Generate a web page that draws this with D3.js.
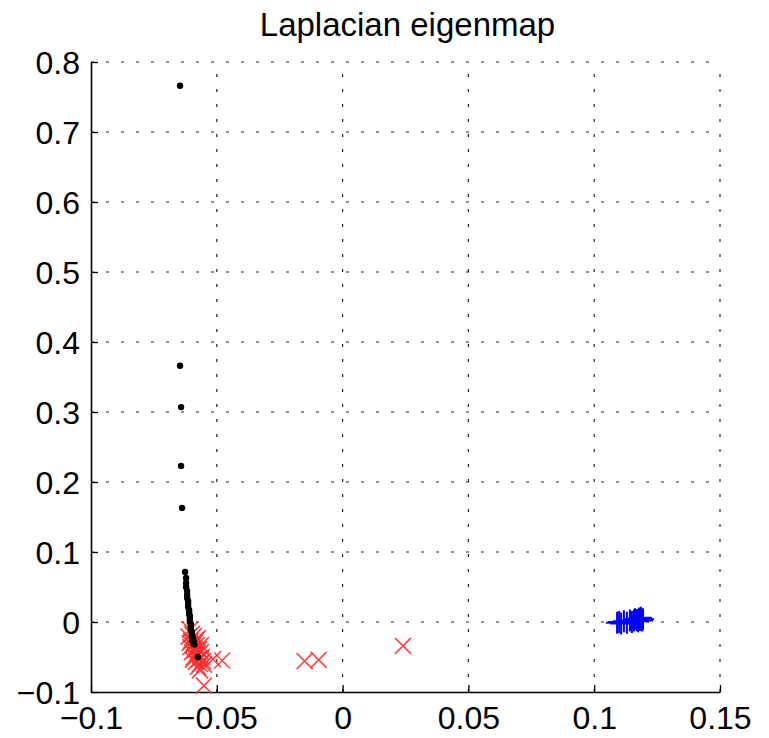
<!DOCTYPE html>
<html>
<head>
<meta charset="utf-8">
<script src="https://cdn.jsdelivr.net/npm/d3@7"></script>
<style>
  html, body { margin: 0; padding: 0; background: #fff; }
  svg { display: block; font-family: "Liberation Sans", Arial, Helvetica, sans-serif; }
</style>
</head>
<body>
<svg id="chart" width="769" height="738"></svg>
<script>
// ---- data ----
const title = "Laplacian eigenmap";
const xTicks = [-0.1, -0.05, 0, 0.05, 0.1, 0.15];
const xTickLabels = ["\u22120.1", "\u22120.05", "0", "0.05", "0.1", "0.15"];
const yTicks = [-0.1, 0, 0.1, 0.2, 0.3, 0.4, 0.5, 0.6, 0.7, 0.8];
const yTickLabels = ["\u22120.1", "0", "0.1", "0.2", "0.3", "0.4", "0.5", "0.6", "0.7", "0.8"];

// blue "+" class
const blueX = [0.1091, 0.1099, 0.1107, 0.1118, 0.1130, 0.1142, 0.1150, 0.1162, 0.1170, 0.1178, 0.1186, 0.1194, 0.1190, 0.1174, 0.1182, 0.1158];
const blueY = [-0.001, 0.000, -0.002, 0.001, -0.001, 0.002, 0.000, 0.004, 0.003, 0.005, 0.006, 0.004, 0.002, 0.001, 0.003, 0.002];

// red "x" class
const redX = [-0.0606, -0.0599, -0.0612, -0.0591, -0.0603, -0.0583, -0.0595, -0.0579, -0.0605, -0.0587,
              -0.0571, -0.0599, -0.0579, -0.0563, -0.0591, -0.0571, -0.0559, -0.0583, -0.0567, -0.0555,
              -0.0575, -0.0595, -0.0563, -0.0608, -0.0587, -0.0575, -0.0567, -0.0551,
              -0.0515, -0.0479, -0.0551, -0.0151, -0.0095, 0.0240];
const redY = [-0.011, -0.017, -0.021, -0.020, -0.027, -0.026, -0.033, -0.033, -0.036, -0.040,
              -0.039, -0.043, -0.046, -0.043, -0.050, -0.053, -0.050, -0.057, -0.060, -0.056,
              -0.064, -0.054, -0.033, -0.030, -0.029, -0.023, -0.069, -0.061,
              -0.053, -0.055, -0.091, -0.056, -0.054, -0.034];

// black "." class
const blackX = [-0.0646, -0.0646, -0.0642, -0.0642, -0.0638,
                -0.0626, -0.0622, -0.0622, -0.0622, -0.0618, -0.0618, -0.0618, -0.0614, -0.0614, -0.0614,
                -0.0610, -0.0610, -0.0610, -0.0607, -0.0607, -0.0607, -0.0607, -0.0603, -0.0603, -0.0603,
                -0.0603, -0.0599, -0.0599, -0.0599, -0.0595, -0.0595, -0.0591, -0.0597, -0.0593, -0.0589, -0.0575];
const blackY = [0.766, 0.366, 0.307, 0.223, 0.163,
                0.0714, 0.0629, 0.0557, 0.050, 0.0443, 0.0386, 0.0343, 0.030, 0.0257, 0.0214,
                0.0171, 0.0143, 0.0114, 0.0086, 0.0057, 0.0029, 0.000, -0.0029, -0.0057, -0.0086,
                -0.0114, -0.0143, -0.0171, -0.020, -0.0229, -0.0257, -0.0286, -0.027, -0.030, -0.032, -0.050];

// ---- layout ----
const svg = d3.select("#chart");
const x = d3.scaleLinear().domain([-0.1, 0.15]).range([91, 720]);
const y = d3.scaleLinear().domain([-0.1, 0.8]).range([692, 62]);
const fontSize = 32;

// title
svg.append("text")
  .attr("x", (x.range()[0] + x.range()[1]) / 2 + 2)
  .attr("y", 36)
  .attr("text-anchor", "middle")
  .attr("font-size", 33)
  .attr("fill", "#000")
  .text(title);

// grid
const grid = svg.append("g").attr("stroke", "#222").attr("stroke-width", 1.2)
  .attr("stroke-dasharray", "3,12");
xTicks.slice(1).forEach(t => {
  grid.append("line").attr("x1", x(t)).attr("x2", x(t))
    .attr("y1", y.range()[0]).attr("y2", y.range()[1]);
});
yTicks.slice(1).forEach(t => {
  grid.append("line").attr("y1", y(t)).attr("y2", y(t))
    .attr("x1", x.range()[0]).attr("x2", x.range()[1]);
});

// axes (MATLAB style, inward ticks)
const xAxis = d3.axisBottom(x).tickValues(xTicks).tickSize(-7)
  .tickFormat((d, i) => xTickLabels[i]).tickPadding(14).tickSizeOuter(0);
const gx = svg.append("g").attr("transform", `translate(0,${y.range()[0]})`).call(xAxis);
const yAxis = d3.axisLeft(y).tickValues(yTicks).tickSize(-7)
  .tickFormat((d, i) => yTickLabels[i]).tickPadding(11).tickSizeOuter(0);
const gy = svg.append("g").attr("transform", `translate(${x.range()[0]},0)`).call(yAxis);

[gx, gy].forEach(g => {
  g.select(".domain").attr("stroke", "#000").attr("stroke-width", 1.6);
  g.selectAll(".tick line").attr("stroke", "#000").attr("stroke-width", 1.3);
  g.selectAll(".tick text").attr("font-size", fontSize).attr("fill", "#000")
    .attr("font-family", "'Liberation Sans', Arial, Helvetica, sans-serif");
});
gx.selectAll(".tick text").attr("dy", "0.71em");
gy.selectAll(".tick text").attr("dy", "0.35em");

const plot = svg.append("g");

// blue plus markers
const bh = 11;
const blue = plot.append("g").attr("stroke", "#0000ff").attr("stroke-width", 2).attr("fill", "none");
blueX.forEach((bx, i) => {
  const cx = x(bx), cy = y(blueY[i]);
  blue.append("path").attr("d", `M${cx - bh},${cy}H${cx + bh}M${cx},${cy - bh}V${cy + bh}`);
});

// red x markers
const rh = 8;
const red = plot.append("g").attr("stroke", "#ff2a2a").attr("stroke-width", 1.7)
  .attr("fill", "none").attr("stroke-opacity", 0.85);
redX.forEach((rx, i) => {
  const cx = x(rx), cy = y(redY[i]);
  red.append("path").attr("d", `M${cx - rh},${cy - rh}L${cx + rh},${cy + rh}M${cx - rh},${cy + rh}L${cx + rh},${cy - rh}`);
});

// black dots
plot.append("g").selectAll("circle")
  .data(blackX.map((bx, i) => [bx, blackY[i]]))
  .join("circle")
  .attr("cx", d => x(d[0]))
  .attr("cy", d => y(d[1]))
  .attr("r", 3.2)
  .attr("fill", "#000");
</script>
</body>
</html>
